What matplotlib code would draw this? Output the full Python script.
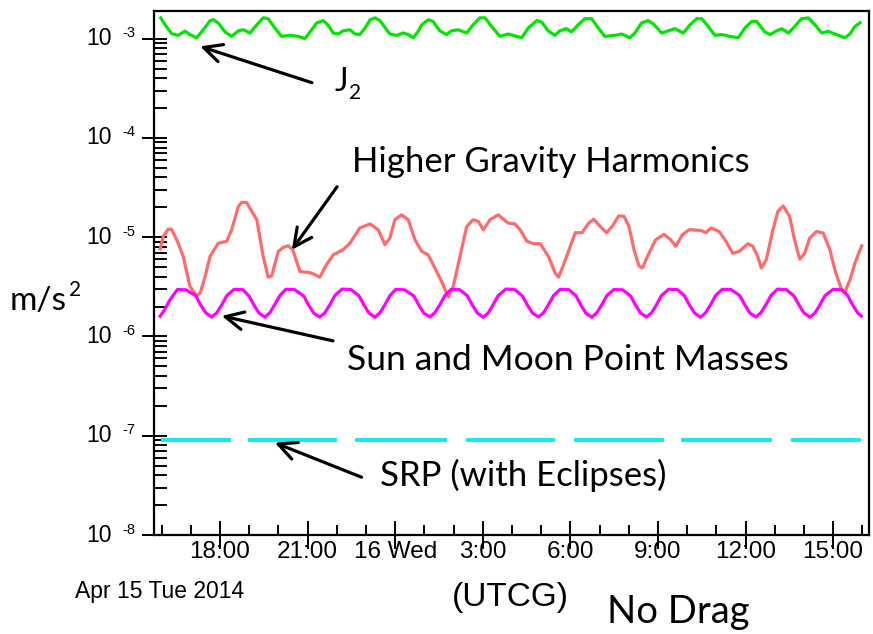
import matplotlib
matplotlib.use("Agg")
import matplotlib.pyplot as plt
import matplotlib.transforms as mtransforms
from matplotlib.ticker import FixedLocator, MultipleLocator, LogLocator, NullFormatter

# time in hours since Apr 15 2014 00:00 UTCG, accelerations in m/s^2
j2_hours = [15.97, 16.12, 16.35, 16.57, 16.80, 16.97, 17.20, 17.43, 17.66, 17.77,
            17.94, 18.17, 18.40, 18.63, 18.80, 19.03, 19.26, 19.48, 19.65, 19.88,
            20.11, 20.40, 20.68, 20.91, 21.14, 21.31, 21.54, 21.71, 21.88, 22.05,
            22.22, 22.45, 22.62, 22.79, 22.97, 23.14, 23.31, 23.48, 23.71, 23.82,
            24.05, 24.28, 24.45, 24.62, 24.79, 24.91, 25.13, 25.30, 25.53, 25.76,
            25.93, 26.16, 26.45, 26.67, 26.90, 27.08, 27.30, 27.59, 27.87, 28.16,
            28.33, 28.56, 28.85, 29.02, 29.24, 29.47, 29.64, 29.87, 30.04, 30.27,
            30.50, 30.73, 30.96, 31.18, 31.53, 31.76, 31.87, 32.04, 32.21, 32.44,
            32.67, 32.84, 33.13, 33.30, 33.58, 33.87, 34.10, 34.33, 34.50, 34.72,
            34.95, 35.18, 35.47, 35.75, 35.98, 36.21, 36.38, 36.66, 36.84, 37.07,
            37.24, 37.47, 37.69, 37.92, 38.15, 38.38, 38.61, 38.83, 39.06, 39.40,
            39.58, 39.75, 39.92]
j2_accel = [1.62e-3, 1.38e-3, 1.12e-3, 1.08e-3, 1.19e-3, 1.10e-3, 1.02e-3, 1.23e-3, 1.52e-3, 1.55e-3,
            1.44e-3, 1.17e-3, 1.055e-3, 1.20e-3, 1.23e-3, 1.14e-3, 1.38e-3, 1.62e-3, 1.59e-3, 1.28e-3,
            1.055e-3, 1.08e-3, 1.055e-3, 1.00e-3, 1.23e-3, 1.44e-3, 1.52e-3, 1.36e-3, 1.14e-3, 1.115e-3,
            1.20e-3, 1.23e-3, 1.115e-3, 1.10e-3, 1.28e-3, 1.55e-3, 1.62e-3, 1.52e-3, 1.23e-3, 1.115e-3,
            1.08e-3, 1.14e-3, 1.10e-3, 1.02e-3, 1.185e-3, 1.38e-3, 1.55e-3, 1.49e-3, 1.20e-3, 1.10e-3,
            1.20e-3, 1.23e-3, 1.14e-3, 1.38e-3, 1.62e-3, 1.62e-3, 1.33e-3, 1.055e-3, 1.115e-3, 1.055e-3,
            1.02e-3, 1.28e-3, 1.52e-3, 1.47e-3, 1.20e-3, 1.08e-3, 1.20e-3, 1.26e-3, 1.17e-3, 1.38e-3,
            1.59e-3, 1.59e-3, 1.28e-3, 1.055e-3, 1.08e-3, 1.115e-3, 1.08e-3, 1.02e-3, 1.14e-3, 1.44e-3,
            1.52e-3, 1.41e-3, 1.14e-3, 1.185e-3, 1.26e-3, 1.14e-3, 1.38e-3, 1.59e-3, 1.59e-3, 1.33e-3,
            1.08e-3, 1.10e-3, 1.055e-3, 1.02e-3, 1.28e-3, 1.49e-3, 1.49e-3, 1.17e-3, 1.10e-3, 1.20e-3,
            1.26e-3, 1.14e-3, 1.33e-3, 1.59e-3, 1.62e-3, 1.38e-3, 1.14e-3, 1.185e-3, 1.115e-3, 1.02e-3,
            1.115e-3, 1.33e-3, 1.44e-3]

hgh_hours = [15.95, 16.06, 16.23, 16.35, 16.57, 16.74, 16.97, 17.20, 17.32, 17.49,
             17.66, 17.94, 18.23, 18.40, 18.63, 18.74, 18.91, 19.26, 19.48, 19.65,
             19.77, 20.00, 20.17, 20.34, 20.49, 20.74, 21.08, 21.25, 21.42, 21.65,
             21.88, 22.22, 22.45, 22.79, 23.14, 23.42, 23.65, 23.82, 23.99, 24.22,
             24.45, 24.68, 24.91, 25.13, 25.30, 25.59, 25.82, 25.99, 26.22, 26.45,
             26.67, 26.85, 27.02, 27.25, 27.53, 27.87, 28.10, 28.28, 28.51, 28.74,
             28.97, 29.25, 29.48, 29.60, 29.77, 30.00, 30.17, 30.40, 30.63, 30.80,
             31.03, 31.24, 31.43, 31.66, 31.84, 32.01, 32.18, 32.35, 32.47, 32.64,
             32.92, 33.21, 33.44, 33.61, 33.84, 34.07, 34.47, 34.64, 34.82, 35.10,
             35.33, 35.56, 35.79, 36.08, 36.25, 36.42, 36.54, 36.71, 36.94, 37.11,
             37.29, 37.51, 37.68, 37.86, 38.03, 38.20, 38.43, 38.66, 38.89, 39.06,
             39.29, 39.41, 39.58, 39.75, 39.98]
hgh_accel = [7.6e-6, 1.02e-5, 1.21e-5, 1.19e-5, 8.7e-6, 6.4e-6, 3.2e-6, 2.57e-6, 2.73e-6, 4.0e-6,
             6.4e-6, 8.7e-6, 9.1e-6, 1.19e-5, 2.04e-5, 2.24e-5, 2.24e-5, 1.5e-5, 6.4e-6, 3.96e-6,
             4.08e-6, 7.2e-6, 7.9e-6, 8.2e-6, 7.5e-6, 4.5e-6, 4.4e-6, 4.2e-6, 3.96e-6, 5.3e-6,
             6.65e-6, 7.5e-6, 8.7e-6, 1.24e-5, 1.36e-5, 1.19e-5, 8.4e-6, 9.8e-6, 1.5e-5, 1.68e-5,
             1.5e-5, 9.4e-6, 7.2e-6, 6.65e-6, 5.3e-6, 3.58e-6, 2.49e-6, 3.2e-6, 6.4e-6, 1.28e-5,
             1.5e-5, 1.44e-5, 1.19e-5, 1.5e-5, 1.68e-5, 1.39e-5, 1.36e-5, 1.19e-5, 9.1e-6, 8.6e-6,
             8.6e-6, 6.4e-6, 4.35e-6, 3.96e-6, 5.3e-6, 8.1e-6, 1.11e-5, 1.11e-5, 1.39e-5, 1.52e-5,
             1.28e-5, 1.11e-5, 1.28e-5, 1.64e-5, 1.62e-5, 1.28e-5, 7.5e-6, 5.15e-6, 4.9e-6, 6.4e-6,
             9.4e-6, 1.07e-5, 9.4e-6, 8.1e-6, 1.06e-5, 1.19e-5, 1.17e-5, 1.11e-5, 1.24e-5, 1.14e-5,
             9.1e-6, 6.9e-6, 7.2e-6, 8.6e-6, 8.1e-6, 6.4e-6, 4.9e-6, 5.9e-6, 1.19e-5, 1.82e-5,
             2.07e-5, 1.62e-5, 9.4e-6, 6.0e-6, 6.9e-6, 9.8e-6, 1.14e-5, 1.1e-5, 7.5e-6, 4.7e-6,
             2.95e-6, 2.84e-6, 3.72e-6, 5.5e-6, 8.2e-6]

sun_moon_hours = [15.95, 16.10, 16.27, 16.54, 16.84, 17.17, 17.34, 17.51,
                  17.72, 17.89, 18.06, 18.23, 18.48, 18.78, 18.99, 19.16, 19.33,
                  19.54, 19.71, 19.88, 20.05, 20.26, 20.56, 20.87, 21.04, 21.21,
                  21.42, 21.59, 21.76, 21.93, 22.18, 22.48, 22.76, 22.93, 23.10,
                  23.31, 23.48, 23.65, 23.82, 24.02, 24.32, 24.64, 24.81, 24.98,
                  25.19, 25.36, 25.53, 25.70, 25.91, 26.21, 26.47, 26.64, 26.81,
                  27.02, 27.19, 27.36, 27.53, 27.79, 28.09, 28.36, 28.53, 28.70,
                  28.91, 29.08, 29.25, 29.42, 29.65, 29.95, 30.19, 30.36, 30.53,
                  30.74, 30.91, 31.08, 31.25, 31.49, 31.79, 32.06, 32.23, 32.40,
                  32.61, 32.78, 32.95, 33.12, 33.37, 33.67, 33.91, 34.08, 34.25,
                  34.46, 34.63, 34.80, 34.97, 35.20, 35.50, 35.81, 35.98, 36.15,
                  36.36, 36.53, 36.70, 36.87, 37.10, 37.40, 37.66, 37.83, 38.00,
                  38.21, 38.38, 38.55, 38.72, 39.00, 39.30, 39.50, 39.67, 39.84,
                  39.97]
sun_moon_accel = [1.60e-6, 1.85e-6, 2.30e-6, 2.97e-6, 2.95e-6, 2.57e-6, 2.08e-6, 1.73e-6,
                  1.57e-6, 1.73e-6, 2.08e-6, 2.57e-6, 2.98e-6, 2.96e-6, 2.57e-6, 2.08e-6, 1.73e-6,
                  1.56e-6, 1.74e-6, 2.10e-6, 2.58e-6, 2.99e-6, 2.96e-6, 2.55e-6, 2.06e-6, 1.72e-6,
                  1.57e-6, 1.73e-6, 2.08e-6, 2.57e-6, 3.00e-6, 2.97e-6, 2.57e-6, 2.08e-6, 1.73e-6,
                  1.56e-6, 1.73e-6, 2.09e-6, 2.58e-6, 2.98e-6, 2.95e-6, 2.56e-6, 2.07e-6, 1.72e-6,
                  1.57e-6, 1.74e-6, 2.08e-6, 2.57e-6, 2.97e-6, 2.96e-6, 2.57e-6, 2.08e-6, 1.73e-6,
                  1.56e-6, 1.73e-6, 2.10e-6, 2.58e-6, 3.00e-6, 2.98e-6, 2.55e-6, 2.07e-6, 1.73e-6,
                  1.57e-6, 1.73e-6, 2.08e-6, 2.57e-6, 2.98e-6, 2.96e-6, 2.57e-6, 2.08e-6, 1.72e-6,
                  1.56e-6, 1.74e-6, 2.09e-6, 2.57e-6, 2.97e-6, 2.95e-6, 2.56e-6, 2.08e-6, 1.73e-6,
                  1.57e-6, 1.73e-6, 2.08e-6, 2.58e-6, 2.99e-6, 2.96e-6, 2.57e-6, 2.07e-6, 1.73e-6,
                  1.56e-6, 1.73e-6, 2.08e-6, 2.57e-6, 2.98e-6, 2.97e-6, 2.57e-6, 2.08e-6, 1.72e-6,
                  1.57e-6, 1.74e-6, 2.09e-6, 2.58e-6, 3.00e-6, 2.96e-6, 2.56e-6, 2.08e-6, 1.73e-6,
                  1.56e-6, 1.73e-6, 2.08e-6, 2.57e-6, 2.98e-6, 2.95e-6, 2.57e-6, 2.08e-6, 1.73e-6,
                  1.60e-6]

# solar radiation pressure, drawn only while the satellite is sunlit
srp_sunlit_start = [15.97, 18.95, 22.64, 26.41, 30.11, 33.79, 37.57]
srp_sunlit_end = [18.39, 22.00, 25.77, 29.46, 33.20, 36.92, 39.97]
srp_accel = 9.1e-8

xtick_hours = [18, 21, 24, 27, 30, 33, 36, 39]
xtick_labels = ["18:00", "21:00", "16 Wed", "3:00", "6:00", "9:00", "12:00", "15:00"]
decades = [-8, -7, -6, -5, -4, -3]

W, H = 873, 634
ANNOT_FONT = "Lato"
TICK_FONT = "Liberation Sans"


def fig_xy(px, py):
    # pixel position in the picture (origin top-left) -> figure fraction
    return px / W, 1 - py / H


fig = plt.figure(figsize=(W / 100, H / 100), dpi=100)
ax = fig.add_axes([154 / W, 1 - 535 / H, (869 - 154) / W, (535 - 11) / H])

ax.plot(j2_hours, j2_accel, color="#00e600", lw=2.3)
ax.plot(hgh_hours, hgh_accel, color="#ff6a6a", lw=2.3)
ax.plot(sun_moon_hours, sun_moon_accel, color="#ff00ff", lw=2.3)
for t0, t1 in zip(srp_sunlit_start, srp_sunlit_end):
    ax.plot([t0, t1], [srp_accel, srp_accel], color="#10ecec", lw=2.8,
            solid_capstyle="butt")

ax.set_yscale("log")
ax.set_ylim(1e-8, 1.9e-3)
ax.set_xlim(15.74, 40.23)

for side in ["left", "right", "top", "bottom"]:
    ax.spines[side].set_linewidth(1.6)

ax.xaxis.set_major_locator(FixedLocator(xtick_hours))
ax.set_xticklabels(xtick_labels, fontsize=17.5, family=TICK_FONT)
ax.xaxis.set_minor_locator(MultipleLocator(1))
ax.tick_params(axis="x", which="major", direction="inout", length=20, width=1.4,
               pad=-5.5)
ax.tick_params(axis="x", which="minor", direction="in", length=7.2, width=1.4)

ax.yaxis.set_major_locator(LogLocator(base=10, numticks=20))
ax.yaxis.set_minor_locator(LogLocator(base=10, subs=range(2, 10), numticks=20))
ax.yaxis.set_major_formatter(NullFormatter())
ax.yaxis.set_minor_formatter(NullFormatter())
ax.tick_params(axis="y", which="major", direction="inout", length=18, width=1.4)
ax.tick_params(axis="y", which="minor", direction="in", length=9, width=1.4)

# y tick labels written as "10" with a raised exponent
blend = mtransforms.blended_transform_factory(fig.transFigure, ax.transData)
for e in decades:
    fig.text(112 / W, 10.0 ** e, "10", transform=blend, ha="right", va="center",
             fontsize=16.5, family=TICK_FONT)
    fig.text(122 / W, 10.0 ** (e + 0.055), str(e), transform=blend, ha="left",
             va="center", fontsize=10.5, family=TICK_FONT)

# arrows and curve names
arrow = dict(arrowstyle="->,head_length=0.65,head_width=0.32", lw=2.3, color="black",
             shrinkA=0, shrinkB=0, mutation_scale=20)
ax.annotate("", xy=(17.32, 8.36e-4), xytext=(21.15, 3.6e-4), arrowprops=arrow)
ax.annotate("", xy=(20.46, 7.46e-6), xytext=(22.01, 3.22e-5), arrowprops=arrow)
ax.annotate("", xy=(18.06, 1.61e-6), xytext=(21.87, 9.03e-7), arrowprops=arrow)
ax.annotate("", xy=(19.88, 8.5e-8), xytext=(22.85, 3.82e-8), arrowprops=arrow)

ax.text(21.94, 2.95e-4, "J", fontsize=23, family=ANNOT_FONT, va="baseline")
ax.text(22.42, 2.45e-4, "2", fontsize=15, family=ANNOT_FONT, va="baseline")
ax.text(22.52, 4.56e-5, "Higher Gravity Harmonics", fontsize=25, family=ANNOT_FONT,
        va="baseline")
ax.text(22.35, 4.6e-7, "Sun and Moon Point Masses", fontsize=25.5, family=ANNOT_FONT,
        va="baseline")
ax.text(23.48, 3.12e-8, "SRP (with Eclipses)", fontsize=25, family=ANNOT_FONT,
        va="baseline")

# text outside the axes
fig.text(*fig_xy(10, 310), "m/s", fontsize=24, family=ANNOT_FONT, va="baseline")
fig.text(*fig_xy(69, 296), "2", fontsize=15, family=ANNOT_FONT, va="baseline")
fig.text(*fig_xy(75, 598), "Apr 15 Tue 2014", fontsize=16.5, family=TICK_FONT,
         va="baseline")
fig.text(*fig_xy(452, 606), "(UTCG)", fontsize=24, family=TICK_FONT, va="baseline")
fig.text(*fig_xy(607, 623), "No Drag", fontsize=27.5, family=ANNOT_FONT, va="baseline")

fig.savefig("out.png", dpi=100)
